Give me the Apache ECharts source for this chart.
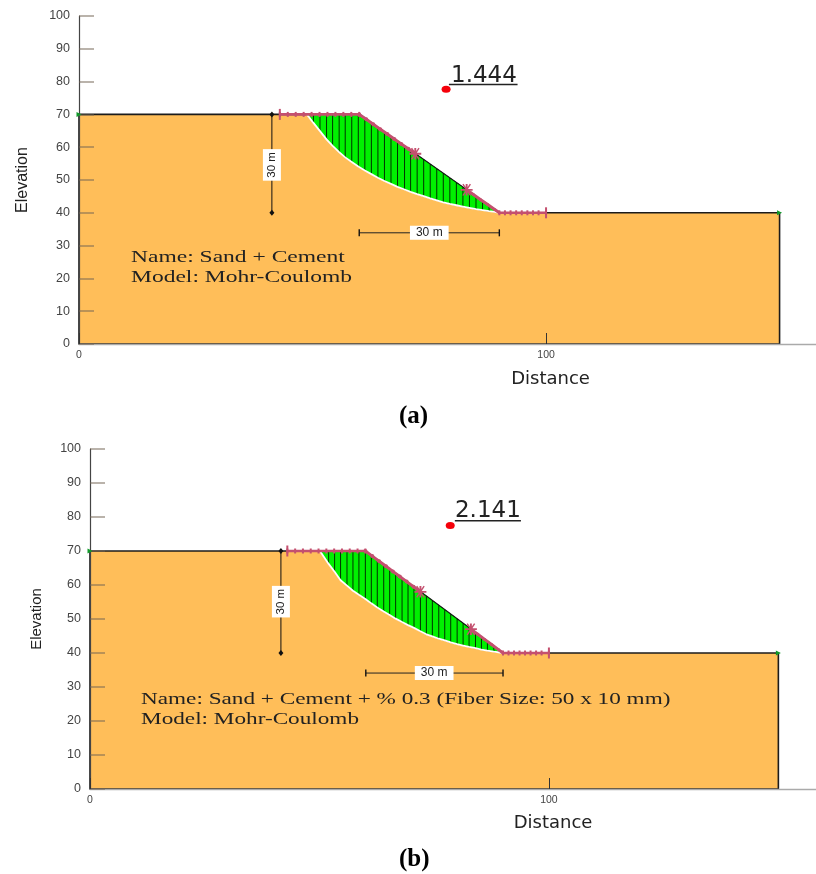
<!DOCTYPE html>
<html><head><meta charset="utf-8">
<style>html,body{margin:0;padding:0;background:#fff}#c{width:816px;height:874px}</style>
<script src="https://cdn.jsdelivr.net/npm/echarts@6/dist/echarts.min.js"></script>
</head><body><div id="c"></div>
<script>
// ---------- shared values ----------
const yTicks = [0,10,20,30,40,50,60,70,80,90,100];
const xTicks = [0,100];
const groundOutline = [[0,0],[0,70],[60,70],[90,40],[150,40],[150,0]];
const flatTopMarks = [43,44.7,46.4,48.1,49.8,51.5,53.2,54.9,56.6,58.3,60];
const slopeMarksUpper = [60,61.5,63,64.5,66,67.5,69,70.5,72];
const slopeMarksLower = [83,84.5,86,87.5,89,90];
const flatToeMarks = [90,91.2,92.4,93.6,94.8,96,97.2,98.4,100];
const endTicks = [[43,70],[100,40]];
const stars = [[72,58],[83,47]];
const sideMarks = [[0,70],[150,40]];

// ---------- panel (a) ----------
const slipStartA = [48.8,70];
const sliceXA = [50.2,51.6,53,54.3,55.7,57,58.4,59.8,61.2,62.6,64,65.4,66.8,68.2,69.7,71,72.4,73.8,75.2,76.6,78,79.4,80.8,82.2,83.6,85,86.4,87.8,89];
const sliceTopA = [70,70,70,70,70,70,70,70,68.8,67.4,66,64.6,63.2,61.8,60.3,59,57.6,56.2,54.8,53.4,52,50.6,49.2,47.8,46.4,45,43.6,42.2,41];
const sliceBotA = [67.4,64.9,62.4,60.4,58.5,56.9,55.5,54.1,52.9,51.8,50.7,49.7,48.8,47.9,47.1,46.4,45.7,45.1,44.4,43.8,43.2,42.7,42.3,41.9,41.5,41.1,40.8,40.5,40.3];
const centerA = [78.6,77.7];
const fosA = "1.444";
const fosLineA = [[79.2,79.1],[93.9,79.1]];
const fosPosA = [86.7,81.7];
const dimVA = [[41.3,70],[41.3,40]];
const dimHA = [[60,33.9],[90,33.9]];
const dimLabelA = [[41.3,54.6],[75,33.9]];

// ---------- panel (b) ----------
const slipStartB = [50.1,70];
const sliceXB = [52,53.3,54.6,56,57.3,58.6,60,61.3,62.6,64,65.3,66.6,68,69.3,70.6,72,73.3,74.6,76,77.3,78.6,80,81.3,82.6,84,85.3,86.6,88];
const sliceTopB = [70,70,70,70,70,70,70,68.7,67.4,66,64.7,63.4,62,60.7,59.4,58,56.7,55.4,54,52.7,51.4,50,48.7,47.4,46,44.7,43.4,42];
const sliceBotB = [66.2,63.9,61.4,59.8,58.3,57.1,55.9,54.6,53.4,52.2,51.2,50.1,49.1,48.2,47.4,46.4,45.5,44.9,44.2,43.7,43.1,42.6,42.2,41.8,41.4,41,40.7,40.4];
const centerB = [78.5,77.5];
const fosB = "2.141";
const fosLineB = [[79.5,78.9],[93.9,78.9]];
const fosPosB = [86.7,81.8];
const dimVB = [[41.6,70],[41.6,40]];
const dimHB = [[60.1,34.1],[90,34.1]];
const dimLabelB = [[41.6,55.1],[75,34.1]];

const toe = [90,40];
const FONT = '"Liberation Sans", Arial, sans-serif';
const SERIF = '"Liberation Serif", "Times New Roman", serif';
const PINK = '#c4506f', ORANGE = '#ffbe59', GREEN = '#00f000';
const STAR = 'path://M4.2,0H5.8V10H4.2Z M0,4.2H10V5.8H0Z M1.4,0.4L2.4,-0.2L8.6,9.6L7.6,10.2Z M7.6,-0.2L8.6,0.4L2.4,10.2L1.4,9.6Z';

function polygon(i, points, style, z){
  return {type:'custom', xAxisIndex:i, yAxisIndex:i, z:z, silent:true,
    data:[points[0]], encode:{x:0,y:1},
    renderItem:(p,api)=>({type:'polygon', shape:{points:points.map(q=>api.coord(q))}, style:style})};
}

function panelSeries(i, start, sx, st, sb, center, fos, fosPos, fosLine, dimV, dimH, dimLabel){
  const ax = {xAxisIndex:i, yAxisIndex:i};
  const curve = sx.map((x,k)=>[x,sb[k]]);
  const slip = [start, ...curve, toe];
  const mass = [start,[60,70],toe,...curve.slice().reverse()];
  const line = (data, color, width, extra)=>Object.assign({type:'line', ...ax, data, symbol:'none', silent:true,
      lineStyle:{color, width}}, extra||{});
  const dot = (data, extra)=>Object.assign({type:'scatter', ...ax, silent:true, data, itemStyle:{opacity:1}}, extra);
  const txt = (p, formatter, color, fontSize, fontFamily, more)=>dot([p],{z:8,symbolSize:0,
      label:Object.assign({show:true,position:'inside',formatter,color,fontSize,fontFamily},more||{})});
  return [
    polygon(i, groundOutline, {fill:ORANGE, stroke:'#1c1c1c', lineWidth:1.6}, 2),
    polygon(i, mass, {fill:GREEN, stroke:'#111', lineWidth:0.8}, 3),
    {type:'custom', ...ax, z:4, silent:true, data:sx.map((x,k)=>[x,st[k],sb[k]]), encode:{x:0,y:[1,2]},
      renderItem:(p,api)=>{const a=api.coord([api.value(0),api.value(1)]),b=api.coord([api.value(0),api.value(2)]);
        return {type:'line',shape:{x1:a[0],y1:a[1],x2:b[0],y2:b[1]},style:{stroke:'#000',lineWidth:0.8}};}},
    line(slip,'#ffffff',1.8,{z:5}),
    line(flatTopMarks.map(x=>[x,70]),PINK,2.6,{z:6,symbol:'rect',symbolSize:[2,5],itemStyle:{color:PINK}}),
    line(slopeMarksUpper.map(x=>[x,130-x]),PINK,3,{z:6,symbol:'circle',symbolSize:4,itemStyle:{color:PINK}}),
    line(slopeMarksLower.map(x=>[x,130-x]),PINK,3,{z:6,symbol:'circle',symbolSize:3,itemStyle:{color:PINK}}),
    line(flatToeMarks.map(x=>[x,40]),PINK,2.6,{z:6,symbol:'rect',symbolSize:[2,5],itemStyle:{color:PINK}}),
    dot(endTicks,{z:7,symbol:'rect',symbolSize:[2,11],itemStyle:{color:PINK,opacity:1}}),
    dot(stars,{z:7,symbol:STAR,symbolSize:12,itemStyle:{color:PINK,opacity:1}}),
    dot(sideMarks,{z:10,symbol:'triangle',symbolSize:5,symbolRotate:-90,itemStyle:{color:'#119a2b',opacity:1}}),
    line(dimV,'#111',1,{z:5}),
    dot(dimV,{z:6,symbol:'diamond',symbolSize:[5,6],itemStyle:{color:'#111',opacity:1}}),
    line(dimH,'#222',1,{z:5}),
    dot(dimH,{z:6,symbol:'rect',symbolSize:[1.4,7],itemStyle:{color:'#111',opacity:1}}),
    txt(dimLabel[0],'30 m','#222',11.5,FONT,{rotate:90,backgroundColor:'#fff',padding:[3,3,3,3]}),
    txt(dimLabel[1],'30 m','#222',12,FONT,{backgroundColor:'#fff',padding:[1,6,1,6]}),
    dot([center],{z:8,symbol:'circle',symbolSize:[9,7],itemStyle:{color:'#f5000a',opacity:1}}),
    line(fosLine,'#222',1.5,{z:8}),
    txt(fosPos,fos,'#222',23,'"DejaVu Sans"')
  ];
}

function xAx(i,gap,pad,max,size){
  return {type:'value',gridIndex:i,min:0,max:max,interval:100,z:9,
    name:'Distance',nameLocation:'middle',nameGap:gap,nameTextStyle:{color:'#222',fontFamily:'"DejaVu Sans"',fontSize:size,padding:[0,0,0,pad]},
    axisLine:{onZero:false,lineStyle:{color:'#aaa',width:1.4}},
    axisTick:{show:true,inside:true,length:11,lineStyle:{color:'#333',width:1},customValues:xTicks},
    axisLabel:{color:'#444',fontFamily:FONT,fontSize:10.5,margin:6,customValues:xTicks},
    splitLine:{show:false}};
}
function yAx(i,gap,size,tick){
  return {type:'value',gridIndex:i,min:0,max:100,interval:10,z:9,
    name:'Elevation',nameLocation:'middle',nameGap:gap,nameRotate:90,nameTextStyle:{color:'#222',fontFamily:FONT,fontSize:size},
    axisLine:{onZero:false,lineStyle:{color:'#444',width:1.2}},
    axisTick:{show:true,inside:true,length:15,lineStyle:{color:'rgba(115,100,85,0.65)',width:1.5}},
    axisLabel:{color:'#444',fontFamily:FONT,fontSize:tick,margin:9,customValues:yTicks},
    splitLine:{show:false}};
}

const chart = echarts.init(document.getElementById('c'),null,{renderer:'canvas'});
chart.setOption({
  backgroundColor:'#fff',animation:false,
  grid:[{left:79,top:16,width:737,height:328},{left:90,top:449,width:726,height:340}],
  xAxis:[xAx(0,26,206,157.8,18),xAx(1,25,200,158.2,18)],
  yAxis:[yAx(0,48,16,12.5),yAx(1,46,15,12.5)],
  series:[...panelSeries(0,slipStartA,sliceXA,sliceTopA,sliceBotA,centerA,fosA,fosPosA,fosLineA,dimVA,dimHA,dimLabelA),
          ...panelSeries(1,slipStartB,sliceXB,sliceTopB,sliceBotB,centerB,fosB,fosPosB,fosLineB,dimVB,dimHB,dimLabelB)],
  graphic:[
    {type:'text',x:131,y:250,scaleX:1.47,z:20,style:{text:'Name: Sand + Cement',font:'16px '+SERIF,fill:'#222'}},
    {type:'text',x:131,y:270,scaleX:1.47,z:20,style:{text:'Model: Mohr-Coulomb',font:'16px '+SERIF,fill:'#222'}},
    {type:'text',x:141,y:692,scaleX:1.45,z:20,style:{text:'Name: Sand + Cement + % 0.3 (Fiber Size: 50 x 10 mm)',font:'16px '+SERIF,fill:'#222'}},
    {type:'text',x:141,y:712,scaleX:1.45,z:20,style:{text:'Model: Mohr-Coulomb',font:'16px '+SERIF,fill:'#222'}},
    {type:'text',x:399,y:404,z:20,style:{text:'(a)',font:'bold 25px '+SERIF,fill:'#000'}},
    {type:'text',x:399,y:847,z:20,style:{text:'(b)',font:'bold 25px '+SERIF,fill:'#000'}}
  ]
});
</script></body></html>
